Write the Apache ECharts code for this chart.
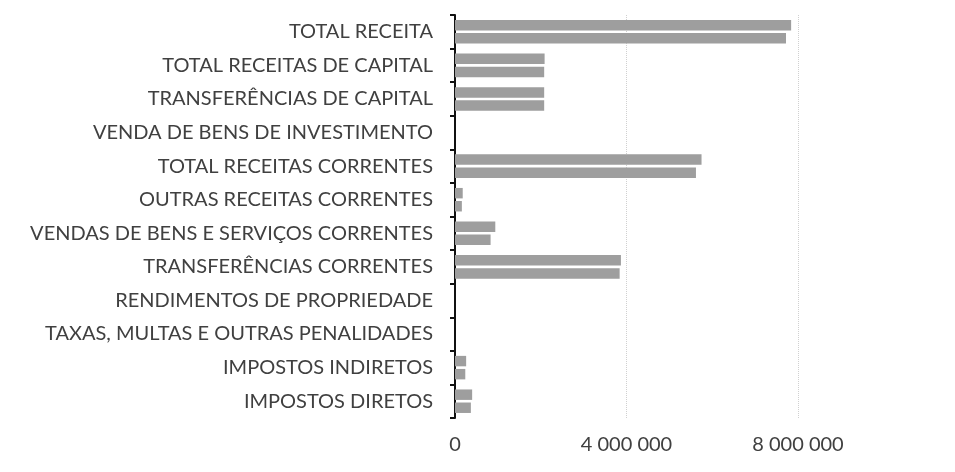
<!DOCTYPE html>
<html><head><meta charset="utf-8">
<script src="https://cdn.jsdelivr.net/npm/echarts@6/dist/echarts.min.js"></script>
<style>html,body{margin:0;padding:0;background:#fff}#c{width:955px;height:472px}</style>
</head><body><div id="c"></div>
<script>
var categories = ['IMPOSTOS DIRETOS','IMPOSTOS INDIRETOS','TAXAS, MULTAS E OUTRAS PENALIDADES','RENDIMENTOS DE PROPRIEDADE','TRANSFERÊNCIAS CORRENTES','VENDAS DE BENS E SERVIÇOS CORRENTES','OUTRAS RECEITAS CORRENTES','TOTAL RECEITAS CORRENTES','VENDA DE BENS DE INVESTIMENTO','TRANSFERÊNCIAS DE CAPITAL','TOTAL RECEITAS DE CAPITAL','TOTAL RECEITA'];
var valuesUpper = [400000, 260000, 0, 0, 3870000, 940000, 180000, 5750000, 0, 2080000, 2090000, 7840000];
var valuesLower = [370000, 240000, 0, 0, 3840000, 830000, 160000, 5620000, 0, 2080000, 2080000, 7720000];
var xTicks = [0, 4000000, 8000000];

var chart = echarts.init(document.getElementById('c'));
function fmt(v){ return String(v).replace(/\B(?=(\d{3})+(?!\d))/g, ' '); }
var barStyle = {color: '#9e9e9e'};
chart.setOption({
  animation: false,
  backgroundColor: '#fff',
  grid: {left: 455, right: 157, top: 15, bottom: 54, containLabel: false},
  xAxis: {
    type: 'value', min: xTicks[0], max: xTicks[xTicks.length-1], interval: xTicks[1]-xTicks[0],
    axisLine: {show: false}, axisTick: {show: false},
    splitLine: {show: true, lineStyle: {color: '#d0d0d0', width: 1, type: 'dotted'}},
    axisLabel: {formatter: fmt, color: '#404040', fontFamily: 'Lato', fontSize: 20, margin: 17}
  },
  yAxis: {
    type: 'category', data: categories,
    axisLine: {show: true, lineStyle: {color: '#111', width: 2}},
    axisTick: {show: true, length: 5, lineStyle: {color: '#111', width: 2}},
    axisLabel: {color: '#404040', fontFamily: 'Lato', fontSize: 20, margin: 22}
  },
  series: [
    {type: 'bar', data: valuesUpper, itemStyle: barStyle, barGap: '25%', barCategoryGap: '30%'},
    {type: 'bar', data: valuesLower, itemStyle: barStyle, barGap: '25%', barCategoryGap: '30%'}
  ]
});
</script></body></html>
